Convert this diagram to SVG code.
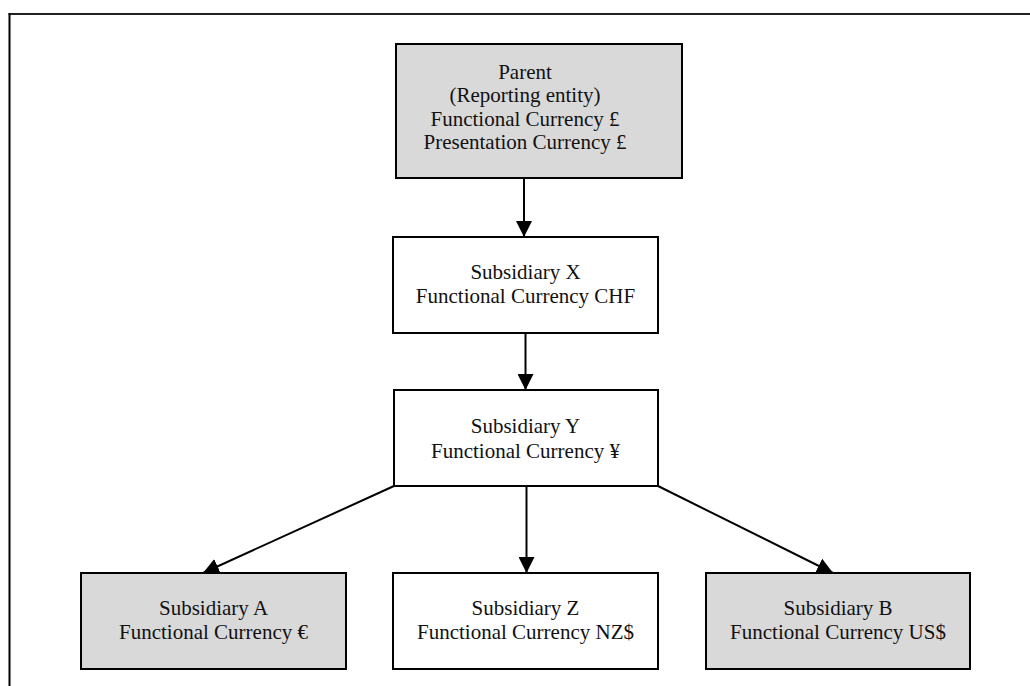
<svg xmlns="http://www.w3.org/2000/svg" width="1030" height="686" viewBox="0 0 1030 686">
  <style>
    .box { stroke: #000; stroke-width: 2; }
    .grey { fill: #d9d9d9; }
    .white { fill: #ffffff; }
    .t { font-family: "Liberation Serif", "Times New Roman", serif; font-size: 21px; fill: #111; text-anchor: middle; }
    .conn { stroke: #000; stroke-width: 2; fill: none; }
  </style>
  <defs>
    <marker id="arr" markerUnits="userSpaceOnUse" markerWidth="16" markerHeight="16" viewBox="0 0 16 16" refX="16" refY="8" orient="auto">
      <path d="M0,0 L16,8 L0,16 z" fill="#000"/>
    </marker>
  </defs>
  <rect x="0" y="0" width="1030" height="686" fill="#fff"/>
  <g id="frame">
    <line x1="8.5" y1="14" x2="1030" y2="14" stroke="#222" stroke-width="2"/>
    <line x1="9.5" y1="13" x2="9.5" y2="686" stroke="#000" stroke-width="2"/>
  </g>
  <g id="connectors">
    <line class="conn" x1="524" y1="178" x2="524" y2="237" marker-end="url(#arr)"/>
    <line class="conn" x1="525.5" y1="333" x2="525.5" y2="390" marker-end="url(#arr)"/>
    <line class="conn" x1="526.5" y1="486" x2="526.5" y2="573" marker-end="url(#arr)"/>
    <line class="conn" x1="394" y1="486" x2="203" y2="573" marker-end="url(#arr)"/>
    <line class="conn" x1="658" y1="486" x2="833" y2="573" marker-end="url(#arr)"/>
  </g>
  <g id="parent">
    <rect class="box grey" x="396" y="44" width="286" height="134"/>
    <text class="t" x="525" y="79">Parent</text>
    <text class="t" x="525" y="102">(Reporting entity)</text>
    <text class="t" x="525" y="126">Functional Currency £</text>
    <text class="t" x="525" y="149">Presentation Currency £</text>
  </g>
  <g id="subX">
    <rect class="box white" x="393" y="237" width="265" height="96"/>
    <text class="t" x="525.5" y="279">Subsidiary X</text>
    <text class="t" x="525.5" y="303">Functional Currency CHF</text>
  </g>
  <g id="subY">
    <rect class="box white" x="394" y="390" width="264" height="96"/>
    <text class="t" x="525.5" y="433">Subsidiary Y</text>
    <text class="t" x="525.5" y="458">Functional Currency ¥</text>
  </g>
  <g id="subA">
    <rect class="box grey" x="81" y="573" width="265" height="96"/>
    <text class="t" x="213.5" y="615">Subsidiary A</text>
    <text class="t" x="213.5" y="639">Functional Currency €</text>
  </g>
  <g id="subZ">
    <rect class="box white" x="393" y="573" width="265" height="96"/>
    <text class="t" x="525.5" y="615">Subsidiary Z</text>
    <text class="t" x="525.5" y="639">Functional Currency NZ$</text>
  </g>
  <g id="subB">
    <rect class="box grey" x="706" y="573" width="264" height="96"/>
    <text class="t" x="838" y="615">Subsidiary B</text>
    <text class="t" x="838" y="639">Functional Currency US$</text>
  </g>
</svg>
